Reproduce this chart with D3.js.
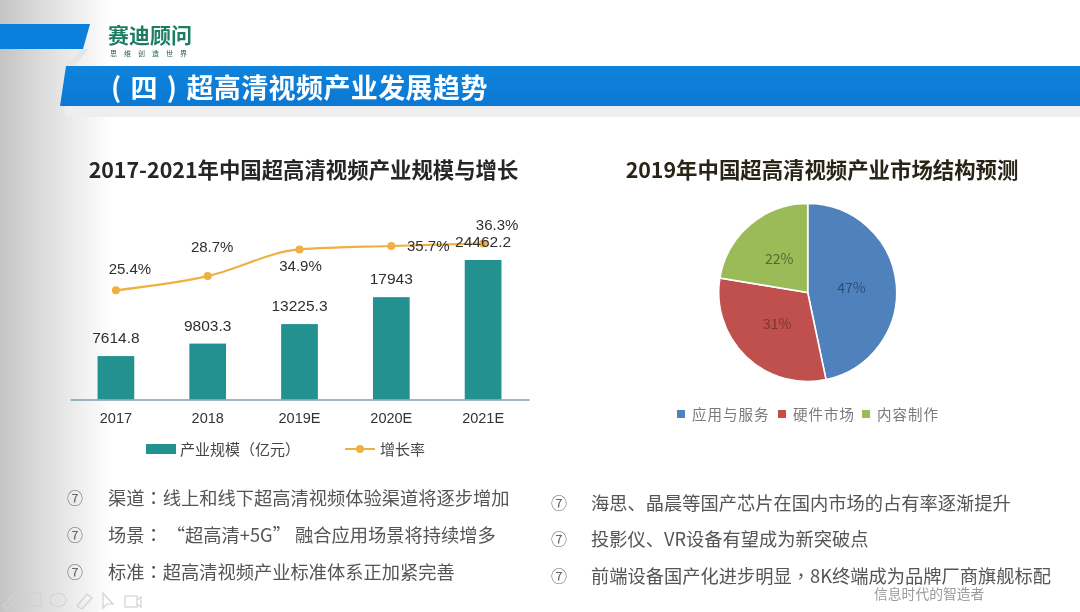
<!DOCTYPE html>
<html><head><meta charset="utf-8">
<script src="https://cdnjs.cloudflare.com/ajax/libs/d3/7.8.5/d3.min.js"></script>
<style>html,body{margin:0;padding:0;background:#fff}svg{display:block;filter:blur(.4px)}</style>
</head><body><svg id="c" width="1080" height="612"></svg>
<script>
const categories=["2017","2018","2019E","2020E","2021E"];
const scaleValues=[7614.8,9803.3,13225.3,17943,24462.2];
const scaleLabels=["7614.8","9803.3","13225.3","17943","24462.2"];
const growthValues=[25.4,28.7,34.9,35.7,36.3];
const growthLabels=["25.4%","28.7%","34.9%","35.7%","36.3%"];
const pieNames=["应用与服务","硬件市场","内容制作"];
const pieValues=[46.7,30.9,22.4];
const pieLabels=["47%","31%","22%"];
const leftTitle="2017-2021年中国超高清视频产业规模与增长";
const rightTitle="2019年中国超高清视频产业市场结构预测";
const pageTitle="( 四 ) 超高清视频产业发展趋势";
const leftBullets=["渠道：线上和线下超高清视频体验渠道将逐步增加","场景： “超高清+5G” 融合应用场景将持续增多","标准：超高清视频产业标准体系正加紧完善"];
const rightBullets=["海思、晶晨等国产芯片在国内市场的占有率逐渐提升","投影仪、VR设备有望成为新突破点","前端设备国产化进步明显，8K终端成为品牌厂商旗舰标配"];

const CJK='"Noto Sans CJK SC","Noto Sans",sans-serif', LAT='"Liberation Sans",Arial,sans-serif', TC='"Noto Sans CJK TC",sans-serif';
const svg=d3.select("#c"), defs=svg.append("defs");
const g1=defs.append("linearGradient").attr("id","side");
[[0,"#c4c4c4"],[.45,"#e0e0e0"],[1,"#ffffff"]].forEach(s=>g1.append("stop").attr("offset",s[0]).attr("stop-color",s[1]));
const g2=defs.append("linearGradient").attr("id","bar").attr("x1",0).attr("x2",0).attr("y1",0).attr("y2",1);
[[0,"#0f83dc"],[1,"#0a78d4"]].forEach(s=>g2.append("stop").attr("offset",s[0]).attr("stop-color",s[1]));
svg.append("rect").attr("width",112).attr("height",612).attr("fill","url(#side)");

// header furniture
svg.append("polygon").attr("points","82,49 89,49 74,66 65,66").attr("fill","#e6e6e6");
svg.append("polygon").attr("points","0,24 90,24 83,49 0,49").attr("fill","#0b7fdc");
svg.append("polygon").attr("points","64,106 1080,106 1080,117 66,117").attr("fill","#eeeeee");
svg.append("polygon").attr("points","66,66 1080,66 1080,106 60,106").attr("fill","url(#bar)");
svg.append("text").text("赛迪顾问").attr("x",108).attr("y",43).attr("font-family",CJK).attr("font-weight",700).attr("font-size",21).attr("fill","#1c7d62");
svg.append("text").text("思维创造世界").attr("x",110).attr("y",56).attr("font-family",CJK).attr("font-size",7).attr("letter-spacing",7).attr("fill","#2c5d50");
svg.append("text").text(pageTitle).attr("x",111).attr("y",98).attr("font-family",CJK).attr("font-weight",700).attr("font-size",27).attr("letter-spacing",.4).attr("word-spacing",2.4).attr("fill","#fff");

svg.append("text").text(leftTitle).attr("x",303.5).attr("y",177.5).attr("text-anchor","middle").attr("font-family",CJK).attr("font-weight",700).attr("font-size",21.4).attr("fill","#262626");
svg.append("text").text(rightTitle).attr("x",822).attr("y",177.5).attr("text-anchor","middle").attr("font-family",CJK).attr("font-weight",700).attr("font-size",21.4).attr("fill","#2a2416");

// combo chart
const baseY=399.5;
const x=d3.scaleBand().domain(categories).range([70,529]).paddingInner(.6).paddingOuter(.3);
const y=d3.scaleLinear().domain([0,24462.2]).range([baseY,260]);
const yg=d3.scaleLinear().domain([25.4,36.3]).range([290.3,243.4]);
const cx=c=>x(c)+x.bandwidth()/2;
const teal="#23918f", gold="#efb041";
svg.append("g").selectAll("rect").data(categories).join("rect")
 .attr("x",d=>x(d)).attr("width",x.bandwidth())
 .attr("y",(d,i)=>y(scaleValues[i])).attr("height",(d,i)=>baseY-y(scaleValues[i])).attr("fill",teal);
const axis=svg.append("g").attr("transform",`translate(0,${baseY})`).call(d3.axisBottom(x).tickSize(0).tickPadding(13));
axis.select(".domain").attr("stroke","#7d9fae").attr("stroke-width",1.3);
axis.selectAll("text").attr("font-family",LAT).attr("font-size",14.5).attr("fill","#333");
const line=d3.line().x((d,i)=>cx(categories[i])).y(d=>yg(d)).curve(d3.curveMonotoneX);
svg.append("path").attr("d",line(growthValues)).attr("fill","none").attr("stroke",gold).attr("stroke-width",2.2);
svg.append("g").selectAll("circle").data(growthValues).join("circle")
 .attr("cx",(d,i)=>cx(categories[i])).attr("cy",d=>yg(d)).attr("r",4).attr("fill",gold);
svg.append("g").selectAll("text").data(scaleLabels).join("text").text(d=>d)
 .attr("x",(d,i)=>cx(categories[i])).attr("y",(d,i)=>y(scaleValues[i])-13)
 .attr("text-anchor","middle").attr("font-family",LAT).attr("font-size",15.5).attr("fill","#2f2f2f");
const gdx=[14,4.5,1,37,14], gdy=[-16,-24,22,5,-13];
svg.append("g").selectAll("text").data(growthLabels).join("text").text(d=>d)
 .attr("x",(d,i)=>cx(categories[i])+gdx[i]).attr("y",(d,i)=>yg(growthValues[i])+gdy[i])
 .attr("text-anchor","middle").attr("font-family",LAT).attr("font-size",15).attr("fill","#2f2f2f");
// legend
svg.append("rect").attr("x",146).attr("y",444).attr("width",30).attr("height",10).attr("fill",teal);
svg.append("text").text("产业规模（亿元）").attr("x",180).attr("y",454.5).attr("font-family",CJK).attr("font-size",15).attr("fill","#444");
svg.append("line").attr("x1",345).attr("x2",375).attr("y1",449).attr("y2",449).attr("stroke",gold).attr("stroke-width",2);
svg.append("circle").attr("cx",360).attr("cy",449).attr("r",4).attr("fill",gold);
svg.append("text").text("增长率").attr("x",380).attr("y",454.5).attr("font-family",CJK).attr("font-size",15).attr("fill","#444");

// pie
const pieColors=["#4f81bd","#c0504d","#9bbb59"], pieText=["#2f4f77","#7d3330","#4f6a2c"];
const pie=d3.pie().sort(null).startAngle(0).endAngle(2*Math.PI)(pieValues);
const arc=d3.arc().innerRadius(0).outerRadius(89);
const pg=svg.append("g").attr("transform","translate(807.7,292.5)");
pg.selectAll("path").data(pie).join("path").attr("d",arc).attr("fill",(d,i)=>pieColors[i]).attr("stroke","#fff").attr("stroke-width",1.6);
const la=d3.arc().innerRadius(44).outerRadius(44);
pg.selectAll("text").data(pie).join("text").text((d,i)=>pieLabels[i])
 .attr("transform",d=>`translate(${la.centroid(d)})`).attr("dy","0.35em").attr("text-anchor","middle")
 .attr("font-family",CJK).attr("font-size",14).attr("fill",(d,i)=>pieText[i]);
const lsx=[677,778,862], ltx=[692,793,877];
svg.append("g").selectAll("rect").data(pieNames).join("rect").attr("x",(d,i)=>lsx[i]).attr("y",410).attr("width",8).attr("height",8).attr("fill",(d,i)=>pieColors[i]);
svg.append("g").selectAll("text").data(pieNames).join("text").text(d=>d).attr("x",(d,i)=>ltx[i]).attr("y",419.5)
 .attr("font-family",CJK).attr("font-size",14.5).attr("letter-spacing",1).attr("fill","#7a7a7a");

// bullet lists: colon and comma take the centred form the reference shows
function fillText(sel){
 sel.each(function(d){
  const t=d3.select(this);
  d.split(/([：，])/).forEach(p=>{ if(!p) return;
   const s=t.append("tspan").text(p);
   if(p==="："||p==="，") s.attr("font-family",TC);
  });
 });
}
function list(items,bx,tx,ys){
 const g=svg.append("g");
 g.selectAll(".b").data(items).join("text").attr("class","b").text("⑦").attr("x",bx).attr("y",(d,i)=>ys[i]+6).attr("text-anchor","middle").attr("font-family",CJK).attr("font-size",16).attr("fill","#666");
 g.selectAll(".t").data(items).join("text").attr("class","t").attr("x",tx).attr("y",(d,i)=>ys[i]+6.5).attr("font-family",CJK).attr("font-size",18.25).attr("fill","#555").style("white-space","pre").call(fillText);
}
list(leftBullets,75,108,[498,535,572]);
list(rightBullets,559,591,[503,539,576]);
svg.append("text").text("信息时代的智造者").attr("x",874).attr("y",599).attr("font-family",CJK).attr("font-size",13.8).attr("fill","#9a9a9a");

// faint presenter toolbar
const tb=svg.append("g").attr("fill","none").attr("stroke","#d2d2d2").attr("stroke-width",1.2);
tb.append("path").attr("d","M3,606 L16,593 L19,596 L6,609 Z");
tb.append("rect").attr("x",28).attr("y",593).attr("width",13).attr("height",13);
tb.append("ellipse").attr("cx",58).attr("cy",600).attr("rx",8).attr("ry",6.5);
tb.append("path").attr("d","M77,606 L87,594 L92,598 L82,609 Z");
tb.append("path").attr("d","M103,593 L103,608 L107,604 L113,604 Z");
tb.append("rect").attr("x",125).attr("y",596).attr("width",12).attr("height",11);
tb.append("path").attr("d","M137,600 L141,597 L141,607 L137,604");
</script></body></html>
